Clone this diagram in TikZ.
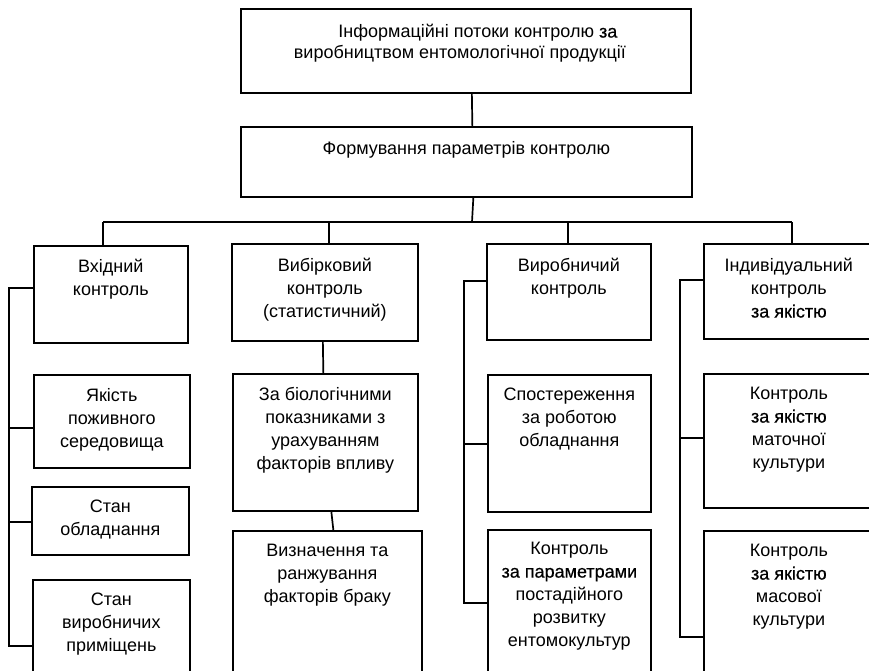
\documentclass[tikz,border=0pt]{standalone}
\usepackage{fontspec}
\setmainfont{Liberation Sans}
\newfontfamily\semib[FakeBold=0.6]{Liberation Sans}
\begin{document}
\begin{tikzpicture}[x=1pt,y=-1pt,
  box/.style={draw=black, line width=1.7pt, anchor=north west, inner sep=0pt},
  txt/.style={anchor=north, align=center, inner sep=0pt, font=\fontsize{18}{23}\selectfont},
  ttxt/.style={anchor=north, align=center, inner sep=0pt, font=\fontsize{18}{21}\selectfont},
  link/.style={draw=black, line width=1.7pt},
  rail/.style={draw=black, line width=2.6pt, line join=miter}]
\clip (0,0) rectangle (869,670);

% title boxes
\node[box, minimum width=450pt, minimum height=84pt] (T1) at (240,8) {};
\node[ttxt] (T1t) at ([xshift=-6pt,yshift=-16pt]T1.north)
  {\hspace*{36pt}Інформаційні потоки контролю {\semib за}\\виробництвом ентомологічної продукції};
\node[box, minimum width=451pt, minimum height=70pt] (T2) at (240,126) {};
\node[ttxt] (T2t) at ([yshift=-15pt]T2.north) {Формування параметрів контролю};

% column 1
\node[box, minimum width=154pt, minimum height=97pt] (B1) at (33,245) {};
\node[txt] (B1t) at ([yshift=-14pt]B1.north) {Вхідний\\контроль};
\node[box, minimum width=156pt, minimum height=93pt] (B2) at (33,374) {};
\node[txt] (B2t) at ([yshift=-14pt]B2.north) {Якість\\поживного\\середовища};
\node[box, minimum width=157pt, minimum height=68pt] (B3) at (31,486) {};
\node[txt] (B3t) at ([yshift=-14pt]B3.north) {Стан\\обладнання};
\node[box, minimum width=157pt, minimum height=121pt] (B4) at (32,579) {};
\node[txt] (B4t) at ([yshift=-14pt]B4.north) {Стан\\виробничих\\приміщень};

% column 2
\node[box, minimum width=186pt, minimum height=97pt] (C1) at (231,243) {};
\node[txt] (C1t) at ([yshift=-15pt]C1.north) {Вибірковий\\контроль\\(статистичний)};
\node[box, minimum width=185pt, minimum height=137pt] (C2) at (232,373) {};
\node[txt] (C2t) at ([yshift=-14pt]C2.north) {За біологічними\\показниками з\\урахуванням\\факторів впливу};
\node[box, minimum width=189pt, minimum height=170pt] (C3) at (232,530) {};
\node[txt] (C3t) at ([yshift=-14pt]C3.north) {Визначення та\\ранжування\\факторів браку};

% column 3
\node[box, minimum width=164pt, minimum height=96pt] (D1) at (486,243) {};
\node[txt] (D1t) at ([yshift=-15pt]D1.north) {Виробничий\\контроль};
\node[box, minimum width=163pt, minimum height=137pt] (D2) at (487,374) {};
\node[txt] (D2t) at ([yshift=-14pt]D2.north) {Спостереження\\за роботою\\обладнання};
\node[box, minimum width=163pt, minimum height=171pt] (D3) at (487,529) {};
\node[txt] (D3t) at ([yshift=-13pt]D3.north) {Контроль\\{\semib за параметрами}\\постадійного\\розвитку\\ентомокультур};

% column 4
\node[box, minimum width=170pt, minimum height=95pt] (E1) at (703,243) {};
\node[txt] (E1t) at ([yshift=-15pt]E1.north) {Індивідуальний\\контроль\\{\semib за якістю}};
\node[box, minimum width=170pt, minimum height=134pt] (E2) at (703,373) {};
\node[txt] (E2t) at ([yshift=-14pt]E2.north) {Контроль\\{\semib за якістю}\\маточної\\культури};
\node[box, minimum width=170pt, minimum height=170pt] (E3) at (703,530) {};
\node[txt] (E3t) at ([yshift=-14pt]E3.north) {Контроль\\{\semib за якістю}\\масової\\культури};

% main trunk and bus
\draw[link] ([xshift=6pt]T1.south) -- ([xshift=6pt]T2.north);
\coordinate (busM) at (472,222);
\coordinate (busL) at (103,222);
\coordinate (busB) at (329,222);
\coordinate (busC) at (568,222);
\coordinate (busR) at (792,222);
\draw[link] ([xshift=7pt]T2.south) -- (busM);
\draw[link] (busL) -- (busR);
\draw[link] (busL) -- (busL |- B1.north);
\draw[link] (busB) -- (busB |- C1.north);
\draw[link] (busC) -- (busC |- D1.north);
\draw[link] (busR) -- (busR |- E1.north);

% column 2 chain
\draw[link] ([xshift=-2pt]C1.south) -- ([xshift=-2pt]C2.north);
\draw[link] ([xshift=6pt]C2.south) -- ([xshift=6pt]C3.north);

% side rails
\coordinate (L1) at (9,0);
\coordinate (L3) at (464,0);
\coordinate (L4) at (680,0);
\coordinate (b1s) at ([yshift=6.5pt]B1.west);
\coordinate (b2s) at ([yshift=-6.5pt]B2.west);
\coordinate (b3s) at ([yshift=-1pt]B3.west);
\coordinate (b4s) at ([yshift=-5.5pt]B4.west);
\draw[rail] (b1s) -| (b4s -| L1) -- (b4s);
\draw[rail] (b2s) -- (b2s -| L1);
\draw[rail] (b3s) -- (b3s -| L1);

\coordinate (d1s) at ([yshift=11pt]D1.west);
\coordinate (d2s) at ([yshift=-0.5pt]D2.west);
\coordinate (d3s) at ([yshift=12.5pt]D3.west);
\draw[rail] (d1s) -| (d3s -| L3) -- (d3s);
\draw[rail] (d2s) -- (d2s -| L3);

\coordinate (e1s) at ([yshift=11.5pt]E1.west);
\coordinate (e2s) at ([yshift=3pt]E2.west);
\coordinate (e3s) at ([yshift=-21pt]E3.west);
\draw[rail] (e1s) -| (e3s -| L4) -- (e3s);
\draw[rail] (e2s) -- (e2s -| L4);
\end{tikzpicture}
\end{document}
